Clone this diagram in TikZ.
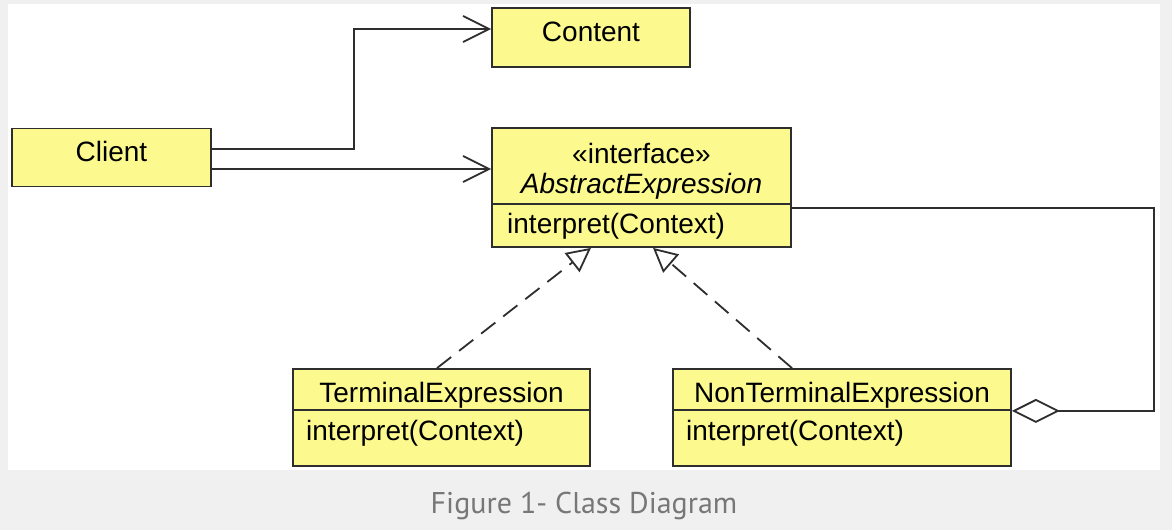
\documentclass[tikz,border=0pt]{standalone}
\usepackage{fontspec}
\setmainfont{Liberation Sans}
\newfontfamily\captionfont{PT Sans}
\usetikzlibrary{arrows.meta}
\definecolor{classyellow}{HTML}{FCFA8E}
\definecolor{umlline}{HTML}{2E2E2E}
\definecolor{pagegray}{HTML}{F0F0F0}
\definecolor{captiongray}{HTML}{777777}

\begin{document}
\begin{tikzpicture}[x=1pt, y=-1pt,
    classbox/.style={draw=umlline, fill=classyellow, line width=1.8pt, inner sep=0pt, font=\fontsize{28}{30}\selectfont},
    namebox/.style={classbox, text height=20pt, text depth=12pt},
    titlebox/.style={classbox, text height=28pt, text depth=3pt},
    optext/.style={anchor=base west, inner sep=0pt, font=\fontsize{28}{30}\selectfont},
    assoc/.style={draw=umlline, line width=1.8pt, -{Straight Barb[length=26pt, width=26pt]}},
    realize/.style={draw=umlline, line width=1.8pt, dash pattern=on 18pt off 10pt, -{Triangle[open, length=24pt, width=24pt]}},
    aggr/.style={draw=umlline, line width=1.8pt, {Diamond[open, length=48pt, width=24pt]}-}
]
    % Set up page
    \fill[pagegray] (0,0) rectangle (1172,530);
    \fill[white] (8,4) rectangle (1160,470);
    \useasboundingbox (0,0) rectangle (1172,530);

    % Draw simple classes
    \node[namebox, minimum width=198pt, minimum height=59pt] (content) at (591,37.5) {Content};
    \node[namebox, minimum width=199pt, minimum height=58pt] (client) at (111.5,157.5) {Client};

    % Draw interface
    \node[classbox, align=center, text height=58pt, text depth=4pt, minimum width=299pt, minimum height=76pt] (absHead) at (641.5,166) {«interface»\\\textit{AbstractExpression}};
    \node[classbox, minimum width=299pt, minimum height=43pt] (absBody) at (641.5,225.5) {};
    \node[optext] (absOp) at (507,233) {interpret(Context)};

    % Draw expressions
    \node[titlebox, minimum width=297pt, minimum height=41pt] (termHead) at (441.5,389.5) {TerminalExpression};
    \node[classbox, minimum width=297pt, minimum height=56pt] (termBody) at (441.5,438) {};
    \node[optext] (termOp) at (306,440) {interpret(Context)};

    \node[titlebox, minimum width=338pt, minimum height=41pt] (ntHead) at (842,389.5) {NonTerminalExpression};
    \node[classbox, minimum width=338pt, minimum height=56pt] (ntBody) at (842,438) {};
    \node[optext] (ntOp) at (686,440) {interpret(Context)};

    % Draw connections
    \draw[assoc] ([yshift=8.5pt]client.east) -- ++(142,0) |- ([yshift=8.5pt]content.west);
    \draw[assoc] ([yshift=-11.5pt]client.east) -- ([yshift=-11.5pt]client.east -| absHead.west);
    \draw[realize] ([xshift=-4.5pt]termHead.north) -- ([xshift=-50.5pt]absBody.south);
    \draw[realize] ([xshift=-50pt]ntHead.north) -- ([xshift=11.5pt]absBody.south);
    \draw[aggr] (ntHead.south east) -- ++(142,0) |- ([yshift=-5pt]absBody.north east);

    % Caption
    \node[text=captiongray, font=\captionfont\fontsize{30}{36}\selectfont] (caption) at (584,506) {Figure 1- Class Diagram};
\end{tikzpicture}
\end{document}
